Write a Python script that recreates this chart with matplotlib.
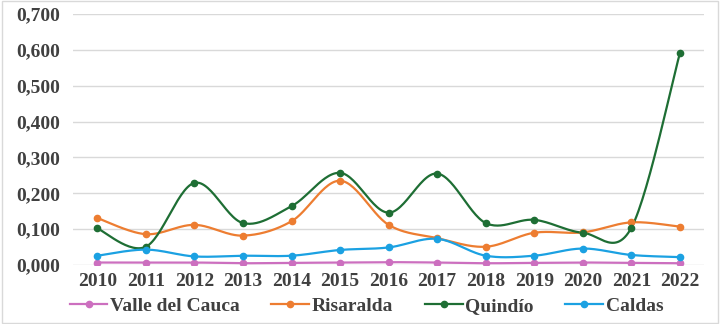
import numpy as np
import matplotlib.pyplot as plt
from matplotlib.patches import Rectangle

years = [2010, 2011, 2012, 2013, 2014, 2015, 2016, 2017, 2018, 2019, 2020, 2021, 2022]
valle = [0.007, 0.007, 0.007, 0.005, 0.006, 0.007, 0.008, 0.007, 0.005, 0.006, 0.007, 0.006, 0.005]
risaralda = [0.131, 0.086, 0.112, 0.082, 0.122, 0.235, 0.112, 0.075, 0.051, 0.090, 0.091, 0.119, 0.107]
quindio = [0.102, 0.051, 0.229, 0.117, 0.164, 0.257, 0.146, 0.255, 0.117, 0.126, 0.090, 0.104, 0.591]
caldas = [0.026, 0.043, 0.024, 0.026, 0.026, 0.042, 0.049, 0.073, 0.026, 0.026, 0.046, 0.028, 0.022]

series = [
    ("Valle del Cauca", valle, "#CC6FBF"),
    ("Risaralda", risaralda, "#ED7D31"),
    ("Quindío", quindio, "#1E6E34"),
    ("Caldas", caldas, "#1BA1E2"),
]


def smooth(x, y, n=30):
    # Catmull-Rom curve through the points (like Excel's smoothed line)
    x = np.asarray(x, float)
    y = np.asarray(y, float)
    px = np.concatenate([[x[0]], x, [x[-1]]])
    py = np.concatenate([[y[0]], y, [y[-1]]])
    xs, ys = [], []
    t = np.linspace(0, 1, n)
    for i in range(1, len(px) - 2):
        p0, p1, p2, p3 = (np.array([px[j], py[j]]) for j in (i - 1, i, i + 1, i + 2))
        c1 = p1 + (p2 - p0) / 6
        c2 = p2 - (p3 - p1) / 6
        pts = ((1 - t) ** 3)[:, None] * p1 + (3 * (1 - t) ** 2 * t)[:, None] * c1 \
            + (3 * (1 - t) * t ** 2)[:, None] * c2 + (t ** 3)[:, None] * p2
        xs.extend(pts[:, 0])
        ys.extend(pts[:, 1])
    return xs, ys


plt.rcParams['font.family'] = ['Liberation Serif', 'DejaVu Serif']
plt.rcParams['font.weight'] = 'bold'

fig = plt.figure(figsize=(7.26, 3.24), dpi=100)
ax = fig.add_axes([0.1006, 0.182, 0.8694, 0.775])

for name, vals, color in series:
    sx, sy = smooth(years, vals)
    ax.plot(sx, sy, color=color, linewidth=1.6, zorder=3)
    ax.plot(years, vals, 'o', color=color, markersize=4.5, zorder=4)
    ax.plot([], [], '-o', color=color, linewidth=1.6, markersize=4.5, label=name)

ax.set_xlim(2009.5, 2022.5)
ax.set_ylim(0, 0.7)
ax.set_xticks(years)
ax.set_yticks(np.arange(0, 0.71, 0.1))
ax.set_yticklabels([f"{v:.3f}".replace('.', ',') for v in np.arange(0, 0.71, 0.1)])
ax.tick_params(axis='both', length=0, labelsize=14, colors='#404040')
ax.tick_params(axis='x', pad=6)
ax.tick_params(axis='y', pad=9)
ax.grid(axis='y', color='#D9D9D9', linewidth=1)
ax.set_axisbelow(True)
for s in ax.spines.values():
    s.set_visible(False)

ax.legend(loc='center', bbox_to_anchor=(0.465, -0.165), ncol=4, frameon=False,
          fontsize=14, handlelength=1.95, columnspacing=1.6, handletextpad=0.15,
          labelcolor='#404040')

fig.patches.append(Rectangle((0.003, 0.004), 0.986, 0.992, transform=fig.transFigure,
                             fill=False, edgecolor='#D9D9D9', linewidth=1))

fig.savefig("out.png")
